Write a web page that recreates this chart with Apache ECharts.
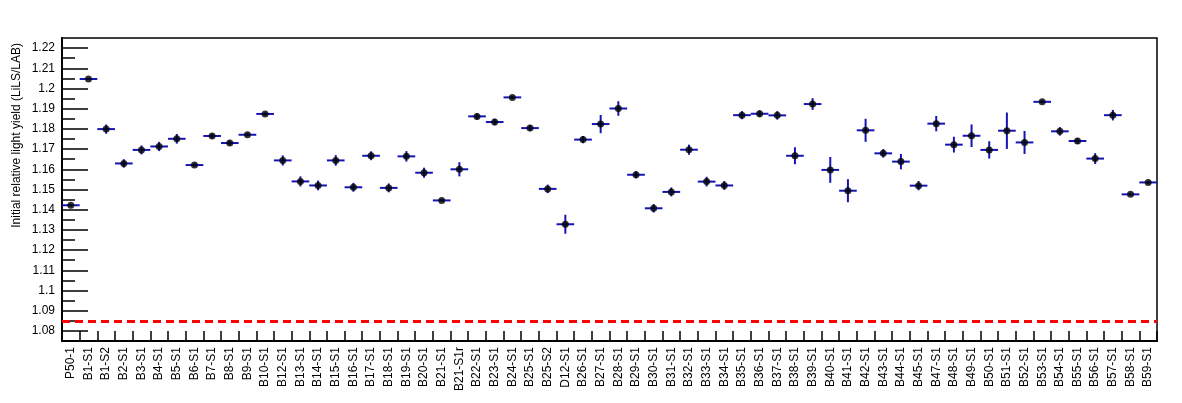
<!DOCTYPE html>
<html>
<head>
<meta charset="utf-8">
<script src="https://cdn.jsdelivr.net/npm/echarts@6/dist/echarts.min.js"></script>
<style>
  html, body { margin: 0; padding: 0; background: #fff; }
  #chart { width: 1182px; height: 403px; }
</style>
</head>
<body>
<div id="chart"></div>
<script>
const categories = ['P50-1','B1-S1','B1-S2','B2-S1','B3-S1','B4-S1','B5-S1','B6-S1','B7-S1','B8-S1','B9-S1','B10-S1',
  'B12-S1','B13-S1','B14-S1','B15-S1','B16-S1','B17-S1','B18-S1','B19-S1','B20-S1','B21-S1','B21-S1r',
  'B22-S1','B23-S1','B24-S1','B25-S1','B25-S2','D12-S1','B26-S1','B27-S1','B28-S1','B29-S1','B30-S1',
  'B31-S1','B32-S1','B33-S1','B34-S1','B35-S1','B36-S1','B37-S1','B38-S1','B39-S1','B40-S1','B41-S1',
  'B42-S1','B43-S1','B44-S1','B45-S1','B47-S1','B48-S1','B49-S1','B50-S1','B51-S1','B52-S1','B53-S1',
  'B54-S1','B55-S1','B56-S1','B57-S1','B58-S1','B59-S1'];
const lightYield = [1.1422,1.2047,1.1799,1.1629,1.1696,1.1713,1.1751,1.1621,1.1765,1.1730,1.1771,1.1874,
  1.1644,1.1540,1.1520,1.1644,1.1511,1.1667,1.1508,1.1664,1.1583,1.1446,1.1600,
  1.1862,1.1834,1.1956,1.1804,1.1503,1.1328,1.1747,1.1824,1.1901,1.1573,1.1407,
  1.1488,1.1697,1.1539,1.1520,1.1868,1.1875,1.1867,1.1667,1.1923,1.1597,1.1494,
  1.1793,1.1679,1.1638,1.1519,1.1826,1.1722,1.1766,1.1696,1.1791,1.1733,1.1934,
  1.1788,1.1740,1.1653,1.1868,1.1476,1.1535];
const yieldError = [0.0006,0.0006,0.0023,0.0021,0.0022,0.0023,0.0024,0.0008,0.0012,0.0012,0.0008,0.0008,
  0.0025,0.0025,0.0024,0.0026,0.0022,0.0022,0.0022,0.0026,0.0025,0.0008,0.0035,
  0.0016,0.0016,0.0008,0.0015,0.0021,0.0047,0.0018,0.0045,0.0036,0.0018,0.0021,
  0.0022,0.0025,0.0024,0.0022,0.0020,0.0017,0.0021,0.0042,0.0029,0.0064,0.0057,
  0.0057,0.0021,0.0038,0.0023,0.0038,0.0039,0.0056,0.0043,0.0090,0.0057,0.0008,
  0.0021,0.0014,0.0027,0.0026,0.0008,0.0008];
const majorTicks = [1.08,1.09,1.10,1.11,1.12,1.13,1.14,1.15,1.16,1.17,1.18,1.19,1.20,1.21,1.22];
const minorTicks = [1.085,1.095,1.105,1.115,1.125,1.135,1.145,1.155,1.165,1.175,1.185,1.195,1.205,1.215];
const yRange = [1.075, 1.225];
const refLine = 1.085;
const yTitle = 'Initial relative light yield (LiLS/LAB)';

const FONT = '"Liberation Sans", Arial, sans-serif';
const pointData = categories.map((c, i) => [i, lightYield[i]]);
const errData = categories.map((c, i) => [i, lightYield[i], yieldError[i]]);

const chart = echarts.init(document.getElementById('chart'), null, { renderer: 'canvas' });
chart.setOption({
  animation: false,
  backgroundColor: '#fff',
  grid: { left: 62, right: 25, top: 38, bottom: 62, show: true, borderColor: '#000', borderWidth: 1.5, backgroundColor: 'transparent' },
  xAxis: {
    type: 'category', data: categories, boundaryGap: true,
    axisLine: { show: true, lineStyle: { color: '#000', width: 2 } },
    axisTick: { show: true, inside: true, length: 10, interval: 0, lineStyle: { color: '#000', width: 1.5 } },
    axisLabel: { interval: 0, rotate: 90, fontSize: 12, fontFamily: FONT, color: '#000', margin: 6 },
    splitLine: { show: false }
  },
  yAxis: [{
    type: 'value', min: yRange[0], max: yRange[1], position: 'left',
    axisLine: { show: true, lineStyle: { color: '#000', width: 2 } },
    axisTick: { show: true, inside: true, length: 26, customValues: majorTicks, lineStyle: { color: '#000', width: 1.5 } },
    axisLabel: { customValues: majorTicks, fontSize: 12, fontFamily: FONT, color: '#000', margin: 7,
      formatter: v => String(parseFloat(v.toFixed(2))) },
    splitLine: { show: false }
  }, {
    type: 'value', min: yRange[0], max: yRange[1], position: 'left', offset: 0,
    axisLine: { show: false },
    axisTick: { show: true, inside: true, length: 13, customValues: minorTicks, lineStyle: { color: '#000', width: 1.5 } },
    axisLabel: { show: false },
    splitLine: { show: false }
  }],
  graphic: [{
    type: 'text', x: 17, y: 43, rotation: Math.PI / 2,
    style: { text: yTitle, fill: '#000', font: '12px ' + FONT, align: 'right', verticalAlign: 'middle' }
  }],
  series: [{
    type: 'custom', xAxisIndex: 0, yAxisIndex: 0, data: errData, encode: { x: 0, y: 1 },
    renderItem: function (params, api) {
      const i = api.value(0), y = api.value(1), e = api.value(2);
      const c = api.coord([i, y]);
      const hw = api.size([1, 0])[0] / 2;
      const top = api.coord([i, y + e]);
      const bot = api.coord([i, y - e]);
      const st = { stroke: '#1414b4', lineWidth: 2 };
      return { type: 'group', children: [
        { type: 'line', shape: { x1: c[0] - hw, y1: c[1], x2: c[0] + hw, y2: c[1] }, style: st },
        { type: 'line', shape: { x1: c[0], y1: top[1], x2: c[0], y2: bot[1] }, style: st }
      ] };
    },
    z: 2
  }, {
    type: 'scatter', xAxisIndex: 0, yAxisIndex: 0, data: pointData,
    symbol: 'circle', symbolSize: 7, itemStyle: { color: '#000' }, z: 3,
    markLine: {
      silent: true, precision: 4, symbol: ['none', 'none'], label: { show: false },
      lineStyle: { color: '#ff0000', width: 3, type: [8, 5] },
      data: [{ yAxis: refLine }]
    }
  }]
});
</script>
</body>
</html>
